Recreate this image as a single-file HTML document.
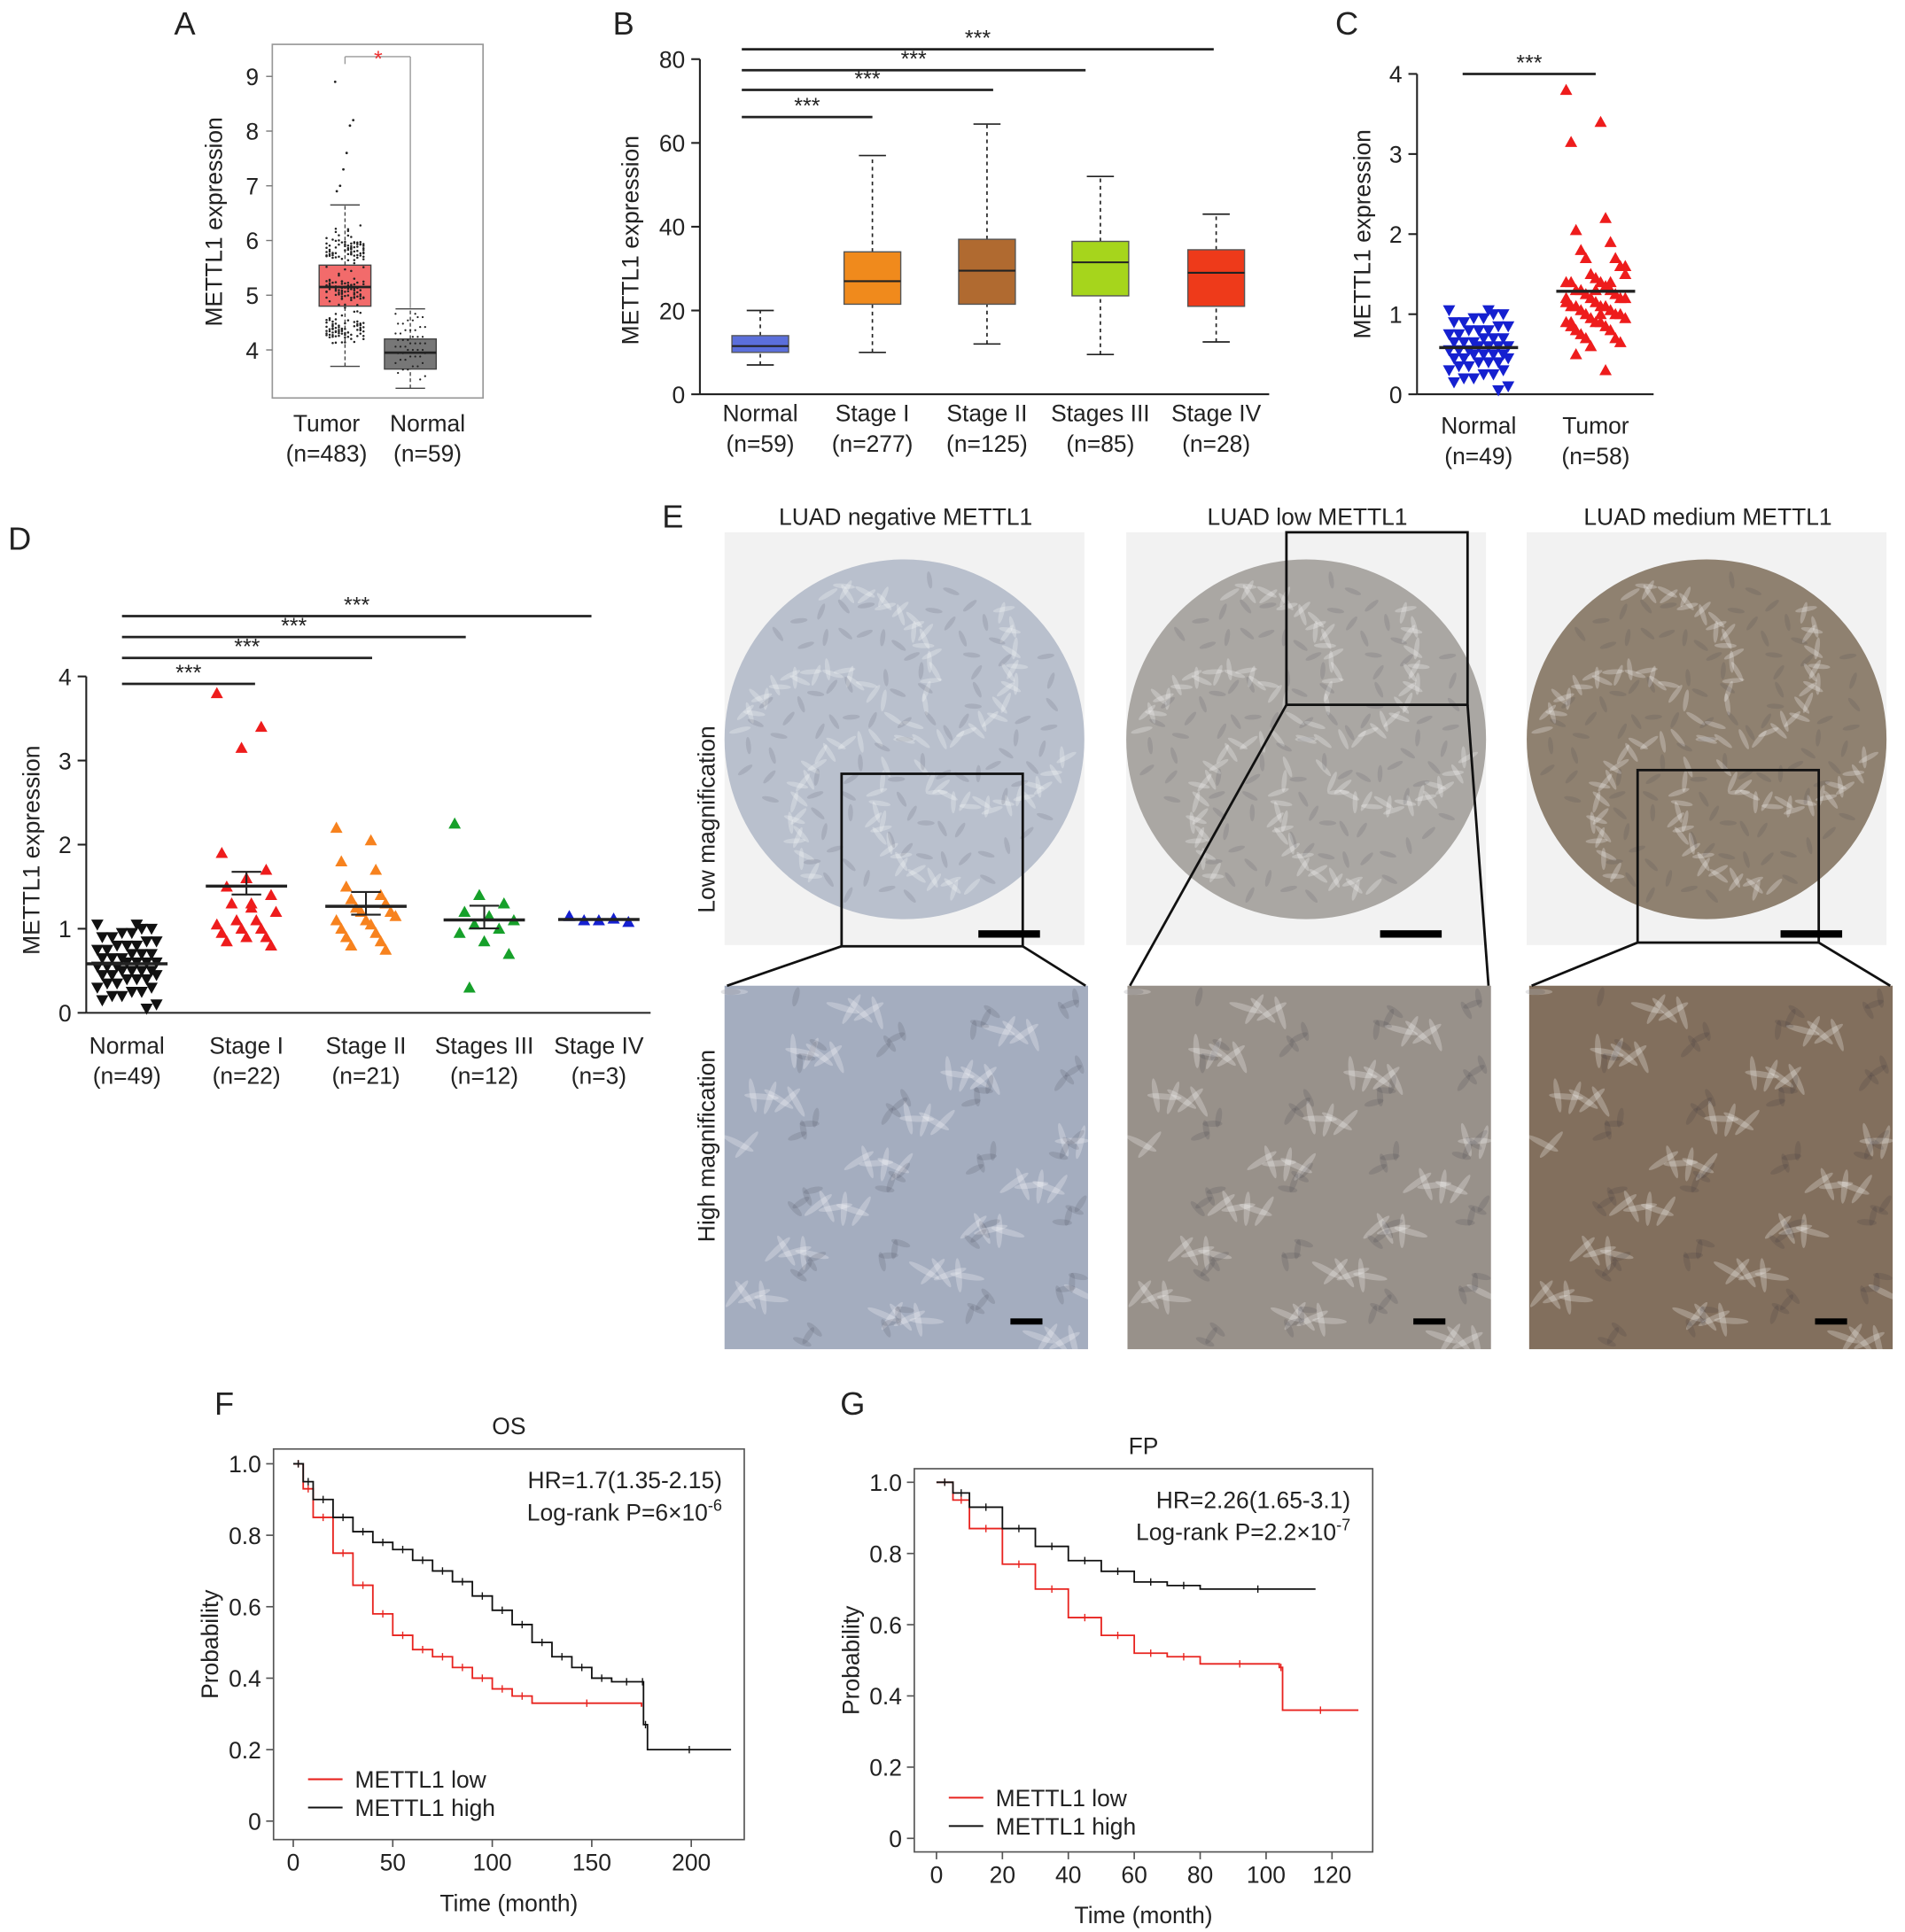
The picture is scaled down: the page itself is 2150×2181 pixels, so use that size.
<!DOCTYPE html>
<html><head><meta charset="utf-8"><style>
html,body{margin:0;padding:0;background:#fff;}
svg{display:block;font-family:"Liberation Sans",sans-serif;}
</style></head><body>
<svg id="fig" width="2150" height="2181" viewBox="0 0 1546 1568" preserveAspectRatio="none" xmlns="http://www.w3.org/2000/svg"></svg>
<script>
// ---------- data ----------
const aCats=["Tumor\n(n=483)","Normal\n(n=59)"];
const aBoxes=[[3.7,4.8,5.15,5.55,6.65],[3.3,3.65,3.95,4.2,4.75]];
const aTicks=[4,5,6,7,8,9];
const bCats=["Normal\n(n=59)","Stage I\n(n=277)","Stage II\n(n=125)","Stages III\n(n=85)","Stage IV\n(n=28)"];
const bBoxes=[[7,10,11.5,14,20],[10,21.5,27,34,57],[12,21.5,29.5,37,64.5],[9.5,23.5,31.5,36.5,52],[12.5,21,29,34.5,43]];
const bTicks=[0,20,40,60,80];
const normalVals=[1.05,1.0,1.0,0.95,0.95,0.9,0.9,0.85,0.85,0.8,0.8,0.8,0.75,0.75,0.7,0.7,0.7,0.65,0.65,0.65,0.6,0.6,0.6,0.6,0.55,0.55,0.55,0.5,0.5,0.5,0.5,0.45,0.45,0.45,0.4,0.4,0.4,0.35,0.35,0.3,0.3,0.25,0.25,0.2,0.2,0.15,0.1,0.05,1.05];
const tumorVals=[3.8,3.4,3.15,2.2,2.05,1.9,1.8,1.7,1.7,1.6,1.5,1.5,1.45,1.4,1.4,1.4,1.35,1.3,1.3,1.3,1.25,1.25,1.2,1.2,1.2,1.15,1.15,1.1,1.1,1.1,1.1,1.05,1.05,1.0,1.0,1.0,0.95,0.95,0.9,0.9,0.9,0.85,0.85,0.8,0.8,0.75,0.7,0.7,0.65,0.6,1.6,1.3,1.2,1.0,0.9,0.3,0.5,1.4];
const cTicks=[0,1,2,3,4];
const dCats=["Normal\n(n=49)","Stage I\n(n=22)","Stage II\n(n=21)","Stages III\n(n=12)","Stage IV\n(n=3)"];
const stage1=[3.8,3.4,3.15,1.9,1.7,1.6,1.5,1.4,1.3,1.3,1.2,1.1,1.1,1.05,1.0,1.0,0.95,0.9,0.9,0.85,0.8,1.25];
const stage2=[2.2,2.05,1.8,1.7,1.5,1.4,1.35,1.3,1.25,1.2,1.2,1.15,1.1,1.1,1.05,1.0,0.95,0.9,0.85,0.8,0.75];
const stage3=[2.25,1.4,1.3,1.2,1.15,1.1,1.05,1.0,0.95,0.85,0.7,0.3];
const stage4=[1.15,1.1,1.1,1.12,1.08];
const fHighT=[0,5,10,20,30,40,50,60,70,80,90,100,110,120,130,140,150,160,175,176,178,220];
const fHighP=[1,.95,.9,.85,.81,.78,.76,.73,.70,.67,.63,.59,.55,.50,.46,.43,.40,.39,.39,.27,.2,.2];
const fLowT=[0,5,10,20,30,40,50,60,70,80,90,100,110,120,175];
const fLowP=[1,.93,.85,.75,.66,.58,.52,.48,.46,.43,.40,.37,.35,.33,.32];
const gHighT=[0,5,10,20,30,40,50,60,70,80,115];
const gHighP=[1,.97,.93,.87,.82,.78,.75,.72,.71,.70,.70];
const gLowT=[0,5,10,20,30,40,50,60,70,80,104,105,128];
const gLowP=[1,.95,.87,.77,.70,.62,.57,.52,.51,.49,.48,.36,.36];
const kmYTicks=[0,0.2,0.4,0.6,0.8,1.0];
const fXTicks=[0,50,100,150,200];
const gXTicks=[0,20,40,60,80,100,120];

// ---------- helpers ----------
const NS="http://www.w3.org/2000/svg";
const svg=document.getElementById('fig');
function el(tag,attrs,parent){const e=document.createElementNS(NS,tag);for(const k in attrs)e.setAttribute(k,attrs[k]);(parent||svg).appendChild(e);return e;}
function txt(x,y,s,size,anchor,parent,extra){
  const lines=String(s).split("\n");
  const t=el('text',Object.assign({x:x,y:y,'font-size':size,'text-anchor':anchor||'middle',fill:'#222'},extra||{}),parent);
  lines.forEach((ln,i)=>{const sp=el('tspan',{x:x,dy:i?size*1.3:0},t);sp.textContent=ln;});
  return t;
}
function line(x1,y1,x2,y2,parent,w,c){return el('line',{x1,y1,x2,y2,stroke:c||'#222','stroke-width':w||1.5},parent);}
function jit(i,amp){return (((i*37)%13)-6)/6*amp;}
function group(name){const g=el('g',{});return g;}
function label(x,y,s){const t=txt(x,y,s,26,'middle');}

// ---------- Panel A ----------
(function(){
const g=group('panel-a-boxplot');
label(150,28,'A');
el('rect',{x:221,y:36,width:171,height:287,fill:'none',stroke:'#999','stroke-width':1.2},g);
const y=v=>284-(v-4)*44.4;
const xs=[280,333];
const lx=[265,347];
aTicks.forEach(v=>{line(216,y(v),221,y(v),g,1,'#777');txt(210,y(v)+7,v,19,'end',g);});
const yt=txt(180,180,'METTL1 expression',19,'middle',g,{transform:'rotate(-90 180 180)'});

const cols=['#f26b6b','#777'];
aBoxes.forEach((b,i)=>{
  const bx=group('box-a-'+i);g.appendChild(bx);
  const x=xs[i];
  line(x,y(b[0]),x,y(b[1]),bx,1,'#444').setAttribute('stroke-dasharray','3,2');
  line(x,y(b[3]),x,y(b[4]),bx,1,'#444').setAttribute('stroke-dasharray','3,2');
  line(x-12,y(b[0]),x+12,y(b[0]),bx,1,'#444');line(x-12,y(b[4]),x+12,y(b[4]),bx,1,'#444');
  el('rect',{x:x-21,y:y(b[3]),width:42,height:y(b[1])-y(b[3]),fill:cols[i],stroke:'#444','stroke-width':1},bx);
  line(x-21,y(b[2]),x+21,y(b[2]),bx,2,'#222');
  txt(lx[i],350,aCats[i],19,'middle',g);
});
// dense dots (cloud)
for(let r=0;r<4;r++) tumorVals.forEach((v,i)=>{const vv=4.1+((v*7.3+r*0.37+i*0.013)%1)*2.2;el('circle',{cx:xs[0]+jit(i+r*5,15),cy:y(vv),r:0.9,fill:'#222'},g);});
[8.9,8.2,8.1,7.6,7.3,7.0,6.9].forEach((v,i)=>el('circle',{cx:xs[0]+jit(i,8),cy:y(v),r:1,fill:'#222'},g));
normalVals.forEach((v,i)=>el('circle',{cx:xs[1]+jit(i,12),cy:y(3.4+v*1.2),r:0.8,fill:'#222'},g));
line(280,46,333,46,g,1,'#999');line(280,46,280,52,g,1,'#999');line(333,46,333,250,g,1,'#999');
txt(307,54,'*',18,'middle',g,{fill:'#e33'});
})();

// ---------- Panel B ----------
(function(){
const g=group('panel-b-boxplot');
label(506,28,'B');
const y=v=>320-v*3.4;const xs=[617,708,801,893,987];
line(568,48,568,320,g);line(568,320,1030,320,g);
bTicks.forEach(v=>{line(561,y(v),568,y(v),g);txt(556,y(v)+7,v,19,'end',g);});
txt(518,195,'METTL1 expression',19,'middle',g,{transform:'rotate(-90 518 195)'});
const cols=['#5b6fdb','#f08a1c','#b06a30','#a6d51c','#ee3a1a'];
bBoxes.forEach((b,i)=>{
  const bx=group('box-b-'+i);g.appendChild(bx);const x=xs[i];
  line(x,y(b[0]),x,y(b[1]),bx,1.2).setAttribute('stroke-dasharray','3,3');
  line(x,y(b[3]),x,y(b[4]),bx,1.2).setAttribute('stroke-dasharray','3,3');
  line(x-11,y(b[0]),x+11,y(b[0]),bx,1.2);line(x-11,y(b[4]),x+11,y(b[4]),bx,1.2);
  el('rect',{x:x-23,y:y(b[3]),width:46,height:y(b[1])-y(b[3]),fill:cols[i],stroke:'#555','stroke-width':1},bx);
  line(x-23,y(b[2]),x+23,y(b[2]),bx,1.5);
  txt(x,342,bCats[i],19,'middle',g);
});
[[95,708],[73,806],[57,881],[40,985]].forEach(s=>{line(602,s[0],s[1],s[0],g,2);txt((602+s[1])/2,s[0]-3,'***',18,'middle',g);});
})();

// ---------- Panel C ----------
(function(){
const g=group('panel-c-scatter');
label(1093,28,'C');
const y=v=>320-v*65;
line(1150,60,1150,320,g);line(1150,320,1342,320,g);
cTicks.forEach(v=>{line(1143,y(v),1150,y(v),g);txt(1138,y(v)+7,v,19,'end',g);});
txt(1112,190,'METTL1 expression',19,'middle',g,{transform:'rotate(-90 1112 190)'});
normalVals.forEach((v,i)=>{const x=1200+jit(i,24),yy=y(v);el('path',{d:`M${x-5},${yy-4}L${x+5},${yy-4}L${x},${yy+5}Z`,fill:'#1520d0'},g);});
tumorVals.forEach((v,i)=>{const x=1295+jit(i*3,24),yy=y(v);el('path',{d:`M${x-5},${yy+4}L${x+5},${yy+4}L${x},${yy-5}Z`,fill:'#ee1c1c'},g);});
const mn=a=>a.reduce((s,v)=>s+v,0)/a.length;
line(1168,y(mn(normalVals)),1232,y(mn(normalVals)),g,2.5);
line(1263,y(mn(tumorVals)),1327,y(mn(tumorVals)),g,2.5);
txt(1200,352,"Normal\n(n=49)",19,'middle',g);txt(1295,352,"Tumor\n(n=58)",19,'middle',g);
line(1187,60,1295,60,g,2);txt(1241,57,'***',18,'middle',g);
})();

// ---------- Panel D ----------
(function(){
const g=group('panel-d-scatter');
label(16,446,'D');
const y=v=>822-v*68.25;const xs=[103,200,297,393,486];
line(70,549,70,822,g);line(70,822,528,822,g);
[0,1,2,3,4].forEach(v=>{line(63,y(v),70,y(v),g);txt(58,y(v)+7,v,19,'end',g);});
txt(32,690,'METTL1 expression',19,'middle',g,{transform:'rotate(-90 32 690)'});
const sets=[normalVals,stage1,stage2,stage3,stage4];
const cols=['#111','#ee1c1c','#f7821e','#16a02a','#1520d0'];
sets.forEach((s,k)=>{
  s.forEach((v,i)=>{const x=xs[k]+jit(i*(k+1),24),yy=y(v);
    const d=k==0?`M${x-5},${yy-4}L${x+5},${yy-4}L${x},${yy+5}Z`:`M${x-5},${yy+4}L${x+5},${yy+4}L${x},${yy-5}Z`;
    el('path',{d,fill:cols[k]},g);});
  const m=s.reduce((a,b)=>a+b,0)/s.length;
  line(xs[k]-33,y(m),xs[k]+33,y(m),g,2.5);
  if(k>0&&k<4){line(xs[k]-12,y(m+0.17),xs[k]+12,y(m+0.17),g,1.5);line(xs[k]-12,y(m-0.1),xs[k]+12,y(m-0.1),g,1.5);line(xs[k],y(m+0.17),xs[k],y(m-0.1),g,1.5);}
  txt(xs[k],855,dCats[k],19,'middle',g);
});
[[555,207],[534,302],[517,378],[500,480]].forEach(s=>{line(99,s[0],s[1],s[0],g,2);txt((99+s[1])/2,s[0]-3,'***',18,'middle',g);});
})();

// ---------- Panel E ----------
(function(){
const g=group('panel-e-ihc-images');
label(546,428,'E');
const titles=['LUAD negative METTL1','LUAD low METTL1','LUAD medium METTL1'];
const cx=[734,1060,1385];
const fillT=['#b9c0cd','#aaa7a3','#8f8170'];
const fillB=['#a4adbf','#98918a','#826f5d'];
const insets=[[683,628,147,140],[1044,432,147,140],[1329,625,147,140]];
const boxX=[588,915,1241];
txt(580,665,'Low magnification',19,'middle',g,{transform:'rotate(-90 580 665)'});
txt(580,930,'High magnification',19,'middle',g,{transform:'rotate(-90 580 930)'});
for(let i=0;i<3;i++){
  txt(cx[i]+1,426,titles[i],19,'middle',g);
  el('rect',{x:cx[i]-146,y:432,width:292,height:335,fill:'#f2f2f2'},g);
  const c=el('circle',{cx:cx[i],cy:600,r:146,fill:fillT[i]},g);
  for(let k=0;k<140;k++){const a=k*2.399, r=Math.sqrt((k*0.71)%1)*135;const ex=cx[i]+Math.cos(a)*r, ey=600+Math.sin(a)*r;
    el('ellipse',{cx:ex,cy:ey,rx:9,ry:2,transform:`rotate(${(k*47)%180} ${ex} ${ey})`,fill:'#fff',opacity:0.25},g);}
  for(let k=0;k<100;k++){const a=k*1.7, r=Math.sqrt((k*0.37)%1)*135;const ex=cx[i]+Math.cos(a)*r, ey=600+Math.sin(a)*r;
    el('ellipse',{cx:ex,cy:ey,rx:7,ry:2,transform:`rotate(${(k*71)%180} ${ex} ${ey})`,fill:'#334',opacity:0.12},g);}
  const ins=insets[i];
  el('rect',{x:ins[0],y:ins[1],width:ins[2],height:ins[3],fill:'none',stroke:'#111','stroke-width':2},g);
  el('rect',{x:cx[i]+60,y:755,width:50,height:6,fill:'#000'},g);
  el('rect',{x:boxX[i],y:800,width:295,height:295,fill:fillB[i]},g);
  for(let k=0;k<90;k++){const xx=boxX[i]+((k*53)%285)+5,yy=800+((k*89)%285)+5;
    el('ellipse',{cx:xx,cy:yy,rx:14,ry:2.5,transform:`rotate(${(k*61)%180} ${xx} ${yy})`,fill:'#fff',opacity:0.25},g);}
  for(let k=0;k<80;k++){const xx=boxX[i]+((k*71)%285)+5,yy=800+((k*43)%285)+5;
    el('ellipse',{cx:xx,cy:yy,rx:8,ry:2.5,transform:`rotate(${(k*31)%180} ${xx} ${yy})`,fill:'#223',opacity:0.12},g);}
  el('rect',{x:boxX[i]+232,y:1070,width:26,height:5,fill:'#000'},g);
  line(ins[0],ins[1]+ins[3],boxX[i]+2,800,g,2,'#111');line(ins[0]+ins[2],ins[1]+ins[3],boxX[i]+293,800,g,2,'#111');
}
})();

// ---------- KM plots ----------
function km(o){
  const g=group(o.name);
  label(o.lx,o.ly,o.letter);
  const X=t=>o.x0+t*o.xs, Y=p=>o.y0-p*o.ys;
  el('rect',{x:o.bx,y:o.by,width:o.bw,height:o.bh,fill:'none',stroke:'#555','stroke-width':1.2},g);
  txt(o.bx+o.bw/2,o.by-12,o.title,19,'middle',g);
  kmYTicks.forEach(v=>{line(o.bx-6,Y(v),o.bx,Y(v),g,1.2,'#555');txt(o.bx-10,Y(v)+7,v===0?'0':v.toFixed(1),19,'end',g);});
  o.xt.forEach(v=>{line(X(v),o.by+o.bh,X(v),o.by+o.bh+6,g,1.2,'#555');txt(X(v),o.by+o.bh+25,v,19,'middle',g);});
  txt(o.bx+o.bw/2,o.by+o.bh+58,'Time (month)',19,'middle',g);
  const yc=o.by+o.bh/2;txt(o.bx-45,yc,'Probability',19,'middle',g,{transform:`rotate(-90 ${o.bx-45} ${yc})`});
  function step(T,P,col,nm){
    let d=`M${X(T[0])},${Y(P[0])}`;
    for(let i=1;i<T.length;i++){d+=`H${X(T[i])}V${Y(P[i])}`;}
    const p=el('path',{d,fill:'none',stroke:col,'stroke-width':1.3},g);
    
    for(let i=1;i<T.length;i++){const xm=(X(T[i-1])+X(T[i]))/2;line(xm,Y(P[i-1])-3,xm,Y(P[i-1])+3,g,1,col);}
  }
  step(o.lowT,o.lowP,'#e8231f',o.letter.toLowerCase()+'-curve-low');
  step(o.highT,o.highP,'#111',o.letter.toLowerCase()+'-curve-high');
  txt(o.bx+o.bw-18,o.by+32,o.hr,19,'end',g);
  const t2=txt(o.bx+o.bw-18,o.by+58,o.lr,19,'end',g);
  const sup=el('tspan',{dy:-8,'font-size':13},t2);sup.textContent=o.exp;
  line(o.bx+28,o.ly2,o.bx+56,o.ly2,g,1.5,'#e8231f');txt(o.bx+66,o.ly2+7,'METTL1 low',19,'start',g);
  line(o.bx+28,o.ly2+23,o.bx+56,o.ly2+23,g,1.5,'#111');txt(o.bx+66,o.ly2+30,'METTL1 high',19,'start',g);
}
km({name:'panel-f-km-os',letter:'F',lx:182,ly:1148,bx:222,by:1176,bw:382,bh:317,x0:238,xs:1.615,y0:1478,ys:290,
  title:'OS',xt:fXTicks,lowT:fLowT,lowP:fLowP,highT:fHighT,highP:fHighP,hr:'HR=1.7(1.35-2.15)',lr:'Log-rank P=6×10',exp:'-6',ly2:1444});
km({name:'panel-g-km-fp',letter:'G',lx:692,ly:1148,bx:742,by:1192,bw:372,bh:311,x0:760,xs:2.675,y0:1492,ys:289,
  title:'FP',xt:gXTicks,lowT:gLowT,lowP:gLowP,highT:gHighT,highP:gHighP,hr:'HR=2.26(1.65-3.1)',lr:'Log-rank P=2.2×10',exp:'-7',ly2:1459});
</script>
</body></html>
